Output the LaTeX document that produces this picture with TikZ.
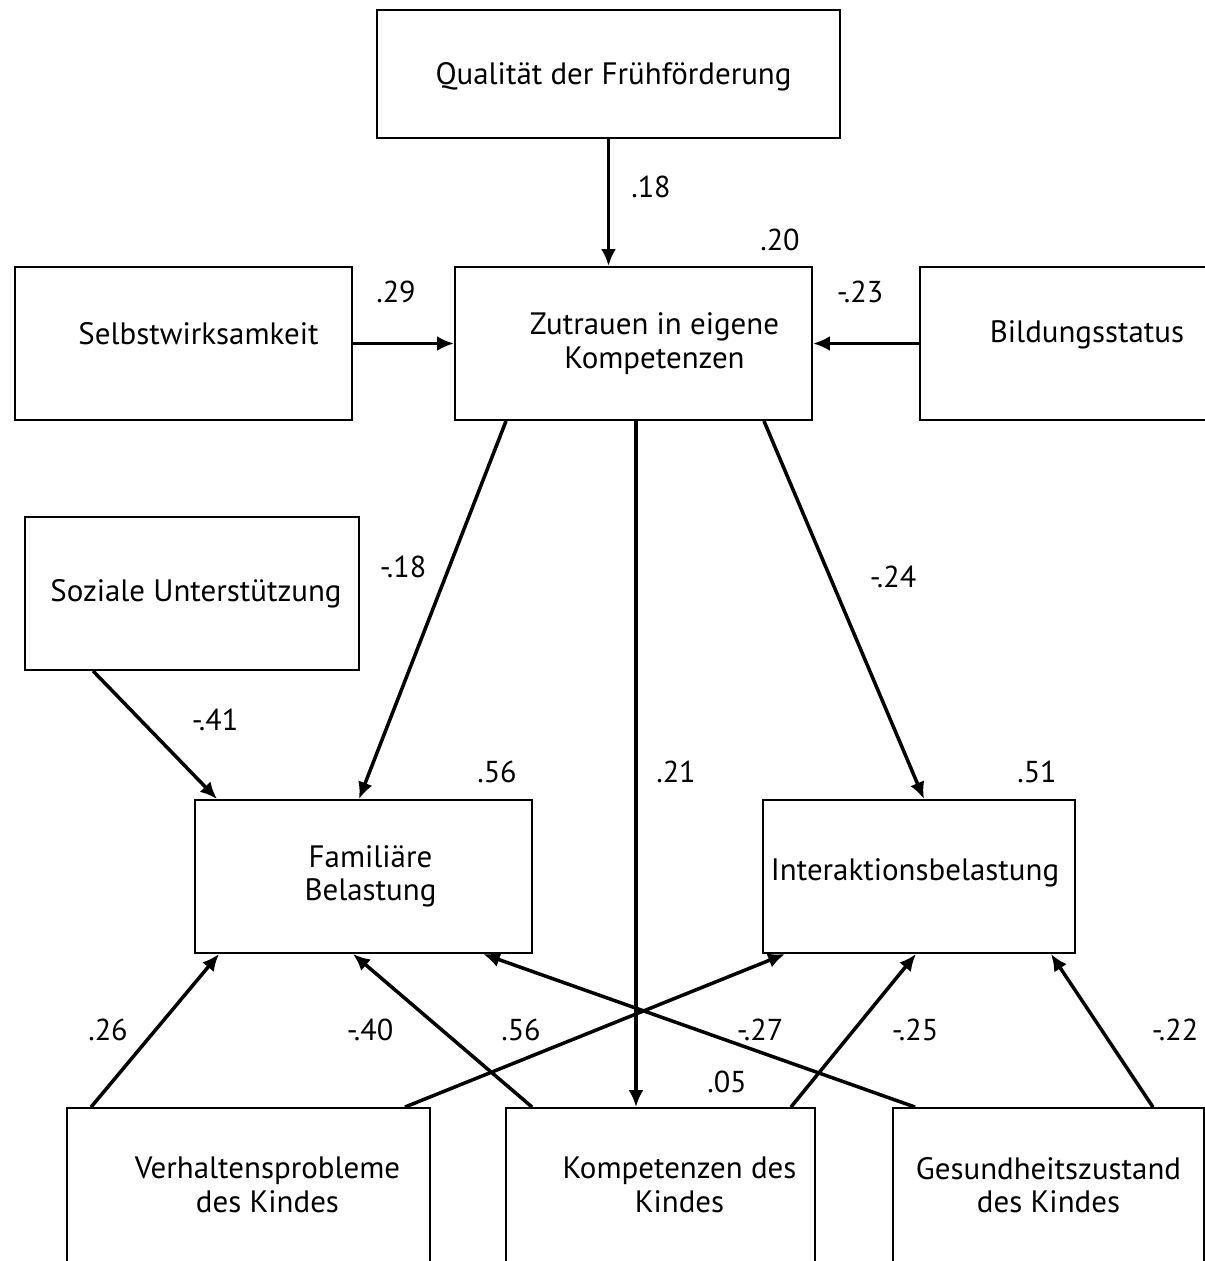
\documentclass[tikz,border=0pt]{standalone}
\usepackage{fontspec}
\setmainfont{PT Sans}
\usetikzlibrary{arrows.meta}

\tikzset{
  box/.style={draw, line width=1.1pt, inner sep=0pt, minimum height=3.06cm},
  txt/.style={align=center, font=\fontsize{17.6}{19}\selectfont},
  pfeil/.style={line width=2pt, -{Latex[length=0.34cm,width=0.3cm]}},
  koeff/.style={font=\fontsize{17.2}{19}\selectfont}
}

\begin{document}
\begin{tikzpicture}[x=0.02cm, y=-0.02cm]
      \useasboundingbox (0,0) rectangle (1204,1261);

      % Kasten
      \node[box, minimum width=9.26cm, minimum height=2.56cm,
        label={[txt, xshift=0.1cm, yshift=-0.06cm]center:Qualität der Frühförderung}] (qual) at (608.5,74) {};
      \node[box, minimum width=6.74cm,
        label={[txt, xshift=0.3cm, yshift=0.2cm]center:Selbstwirksamkeit}] (selb) at (183.5,343.5) {};
      \node[box, minimum width=7.14cm,
        label={[txt, xshift=0.42cm]center:Zutrauen in eigene\\Kompetenzen}] (zutr) at (633.5,343.5) {};
      \node[box, minimum width=6.68cm,
        label={[txt, yshift=0.17cm]center:Bildungsstatus}] (bild) at (1087,343.5) {};
      \node[box, minimum width=6.68cm,
        label={[txt, xshift=0.08cm]center:Soziale Unterstützung}] (soz) at (192,593.5) {};
      \node[box, minimum width=6.74cm,
        label={[txt, xshift=0.14cm]center:Familiäre\\Belastung}] (fam) at (363.5,876.5) {};
      \node[box, minimum width=6.24cm,
        label={[txt, xshift=-0.08cm, yshift=0.08cm]center:Interaktionsbelastung}] (inter) at (919,876.5) {};
      \node[box, minimum width=7.26cm, minimum height=3.2cm,
        label={[txt, xshift=0.38cm, yshift=0.06cm]center:Verhaltensprobleme\\des Kindes}] (verh) at (248.5,1188) {};
      \node[box, minimum width=6.18cm, minimum height=3.2cm,
        label={[txt, xshift=0.38cm, yshift=0.06cm]center:Kompetenzen des\\Kindes}] (komp) at (660.5,1188) {};
      \node[box, minimum width=6.22cm, minimum height=3.2cm,
        label={[txt, yshift=0.06cm]center:Gesundheitszustand\\des Kindes}] (gesu) at (1048.5,1188) {};

      % Pfade
      \draw[pfeil] (qual.south) -- (qual.south |- zutr.north);
      \draw[pfeil] (selb.east) -- (zutr.west);
      \draw[pfeil] (bild.west) -- (zutr.east);
      \draw[pfeil] ([xshift=1.04cm]zutr.south west) -- ([xshift=-0.09cm]fam.north);
      \draw[pfeil] ([xshift=0.05cm]zutr.south) -- ([xshift=0.05cm]zutr.south |- komp.north);
      \draw[pfeil] ([xshift=-0.98cm]zutr.south east) -- ([xshift=0.1cm]inter.north);
      \draw[pfeil] ([xshift=1.38cm]soz.south west) -- ([xshift=0.46cm]fam.north west);
      \draw[pfeil] ([xshift=0.5cm]verh.north west) -- ([xshift=0.5cm]fam.south west);
      \draw[pfeil] ([xshift=0.54cm]komp.north west) -- ([xshift=-0.21cm]fam.south);
      \draw[pfeil] ([xshift=-0.52cm]verh.north east) -- ([xshift=0.46cm]inter.south west);
      \draw[pfeil] ([xshift=0.46cm]gesu.north west) -- ([xshift=-1cm]fam.south east);
      \draw[pfeil] ([xshift=-0.5cm]komp.north east) -- ([xshift=-0.06cm]inter.south);
      \draw[pfeil] ([xshift=-1.04cm]gesu.north east) -- ([xshift=-0.5cm]inter.south east);

      % Koeffizienten
      \node[koeff] (k-qual) at (651,187) {.18};
      \node[koeff] (r-zutr) at (780,240) {.20};
      \node[koeff] (k-selb) at (396,292) {.29};
      \node[koeff] (k-bild) at (860,292) {-.23};
      \node[koeff] (k-fam) at (403,567) {-.18};
      \node[koeff] (k-inter) at (893,577) {-.24};
      \node[koeff] (k-soz) at (215,720) {-.41};
      \node[koeff] (r-fam) at (497,772) {.56};
      \node[koeff] (k-komp) at (676,772) {.21};
      \node[koeff] (r-inter) at (1037,772) {.51};
      \node[koeff] (k-verh1) at (108,1030) {.26};
      \node[koeff] (k-komp1) at (370,1030) {-.40};
      \node[koeff] (k-verh2) at (521,1030) {.56};
      \node[koeff] (k-gesu1) at (760,1030) {-.27};
      \node[koeff] (k-komp2) at (915,1030) {-.25};
      \node[koeff] (k-gesu2) at (1175,1030) {-.22};
      \node[koeff] (r-komp) at (727,1082) {.05};
    \end{tikzpicture}
\end{document}
